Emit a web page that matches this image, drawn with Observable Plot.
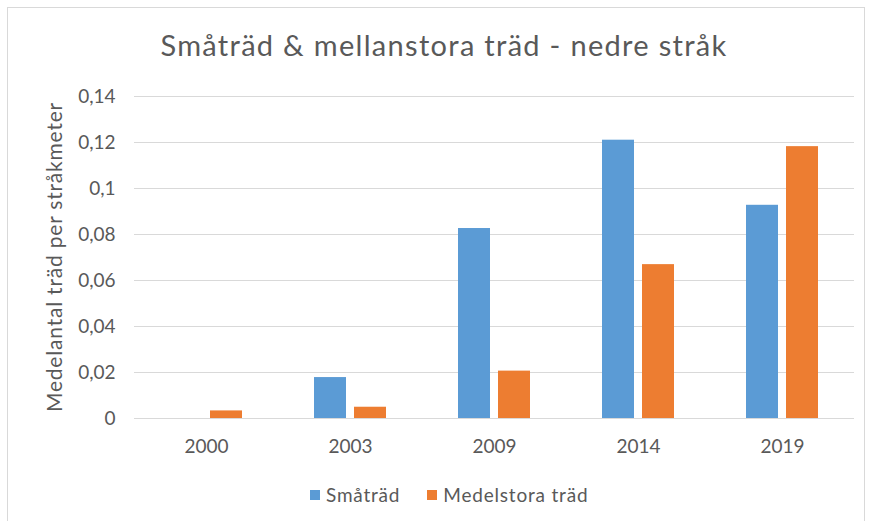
<!DOCTYPE html>
<html>
<head>
<meta charset="utf-8">
<script src="https://cdn.jsdelivr.net/npm/d3@7"></script>
<script src="https://cdn.jsdelivr.net/npm/@observablehq/plot@0.6"></script>
<style>
  html, body { margin: 0; padding: 0; background: #fff; }
  #wrap { position: relative; width: 870px; height: 521px; overflow: hidden; font-family: Lato, "Open Sans", sans-serif; color: #595959; }
  #frame { position: absolute; left: 7px; top: 7px; width: 858px; height: 540px; border: 1px solid #d9d9d9; box-sizing: border-box; }
  #title { position: absolute; left: 0; width: 888px; top: 30px; text-align: center; font-size: 29px; line-height: 29px; letter-spacing: 1.3px; white-space: nowrap; }
  #chart { position: absolute; left: 0; top: 0; }
  #ylabel { position: absolute; left: 53px; top: 257px; transform: translate(-50%, -50%) rotate(-90deg); font-size: 21px; line-height: 21px; letter-spacing: 0.8px; white-space: nowrap; }
  #legend { position: absolute; left: 310px; top: 484px; display: flex; align-items: center; font-size: 19px; line-height: 22px; letter-spacing: 0.8px; white-space: nowrap; }
  .sw { width: 10px; height: 10px; display: inline-block; margin-right: 6px; }
  .item { display: flex; align-items: center; margin-right: 27px; }
</style>
</head>
<body>
<div id="wrap">
  <div id="frame"></div>
  <div id="chart"></div>
  <div id="title"></div>
  <div id="ylabel"></div>
  <div id="legend"></div>
</div>
<script>
const chartTitle = "Småträd & mellanstora träd - nedre stråk";
const yTitle = "Medelantal träd per stråkmeter";
const years = ["2000", "2003", "2009", "2014", "2019"];
const seriesNames = ["Småträd", "Medelstora träd"];
const smatrad = [0, 0.0178, 0.0826, 0.1210, 0.0927];
const medelstora = [0.0033, 0.0049, 0.0206, 0.0669, 0.1182];
const yTicks = [0, 0.02, 0.04, 0.06, 0.08, 0.1, 0.12, 0.14];
const colors = ["#5B9BD5", "#ED7D31"];

const data = years.flatMap((yr, i) => [
  {year: yr, series: seriesNames[0], value: smatrad[i]},
  {year: yr, series: seriesNames[1], value: medelstora[i]}
]);

const fmt = d => String(d).replace(".", ",");

const chart = Plot.plot({
  width: 870,
  height: 480,
  marginLeft: 132,
  marginRight: 14,
  marginTop: 96,
  marginBottom: 62,
  style: {fontFamily: "Lato, 'Open Sans', sans-serif", fontSize: "19px", color: "#595959", background: "transparent"},
  fx: {domain: years, padding: 0, label: null},
  x: {domain: seriesNames, paddingInner: 0.205, paddingOuter: 0.868, axis: null},
  y: {domain: [0, 0.14], label: null},
  color: {domain: seriesNames, range: colors},
  marks: [
    Plot.gridY(yTicks, {stroke: "#d9d9d9", strokeOpacity: 1, strokeWidth: 1}),
    Plot.axisY(yTicks, {tickSize: 0, tickPadding: 19, tickFormat: fmt, label: null}),
    Plot.axisFx({anchor: "bottom", tickSize: 0, tickPadding: 21, label: null}),
    Plot.barY(data, {fx: "year", x: "series", y: "value", fill: "series"})
  ]
});
document.getElementById("chart").appendChild(chart);
document.getElementById("title").textContent = chartTitle;
document.getElementById("ylabel").textContent = yTitle;

const legend = document.getElementById("legend");
seriesNames.forEach((s, i) => {
  const item = document.createElement("div");
  item.className = "item";
  const sw = document.createElement("span");
  sw.className = "sw";
  sw.style.background = colors[i];
  const t = document.createElement("span");
  t.textContent = s;
  item.appendChild(sw);
  item.appendChild(t);
  legend.appendChild(item);
});
</script>
</body>
</html>
